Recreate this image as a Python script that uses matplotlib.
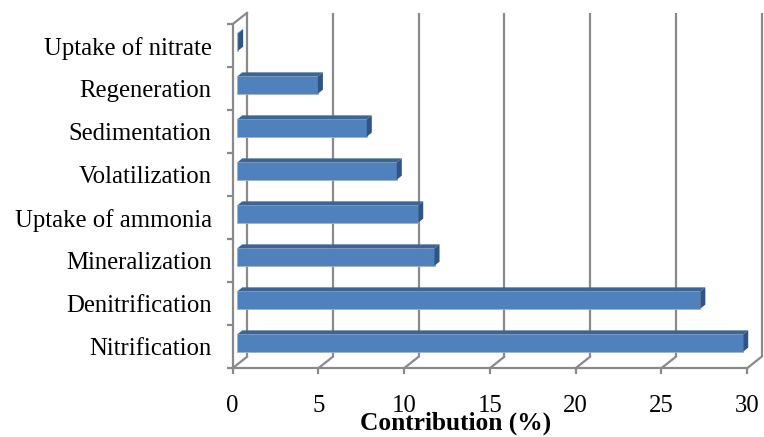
import matplotlib
matplotlib.use("Agg")
import matplotlib.pyplot as plt
from matplotlib.patches import Polygon

# Nitrogen transformation processes and their contribution (%)
categories = ["Nitrification", "Denitrification", "Mineralization", "Uptake of ammonia",
              "Volatilization", "Sedimentation", "Regeneration", "Uptake of nitrate"]
contribution = [29.5, 27.0, 11.5, 10.55, 9.3, 7.55, 4.7, 0.05]
x_ticks = [0, 5, 10, 15, 20, 25, 30]
x_label = "Contribution (%)"

W, H, DPI = 764, 437, 100
fig = plt.figure(figsize=(W / DPI, H / DPI), dpi=DPI)
fig.patch.set_facecolor("white")

# front plane of the 3-D box, in pixels
L, R, T, B = 232.5, 747.0, 24.3, 368.3
ax = fig.add_axes([L / W, 1 - B / H, (R - L) / W, (B - T) / H])
ax.set_xlim(0, 30)
ax.set_ylim(-0.5, len(categories) - 0.5)
for s in ax.spines.values():
    s.set_visible(False)
ax.patch.set_visible(False)

# pixel -> data unit conversions
px_x = 30 / (R - L)
px_y = len(categories) / (B - T)

# depth of the box and of the bars (pixels: right, up)
box_dx, box_dy = 14.5 * px_x, 11.5 * px_y
bar_off_x, bar_off_y = 4.8 * px_x, 3.8 * px_y
bar_dx, bar_dy = 5.0 * px_x, 4.0 * px_y
bar_h = 17.3 * px_y

grid_c = "#8a8a8a"
lw = 1.6
ymin, ymax = -0.5, len(categories) - 0.5

# back wall gridlines
for xv in x_ticks:
    ax.plot([xv + box_dx, xv + box_dx], [ymin + box_dy, ymax + box_dy],
            color=grid_c, lw=lw, zorder=1, clip_on=False, solid_capstyle="butt")
    # floor diagonals
    ax.plot([xv, xv + box_dx], [ymin, ymin + box_dy],
            color=grid_c, lw=lw, zorder=1, clip_on=False)

# front floor edge and left side wall
ax.plot([0, 30], [ymin, ymin], color=grid_c, lw=lw, zorder=1, clip_on=False)
ax.plot([0, 0], [ymin, ymax], color=grid_c, lw=lw, zorder=1, clip_on=False)
ax.plot([0, box_dx], [ymax, ymax + box_dy], color=grid_c, lw=lw, zorder=1, clip_on=False)

# bars: front face, top face, side face
y_pos = list(range(len(categories)))
face = "#4F81BD"
top_c = "#3C6594"
side_c = "#2E5585"
ax.barh([y + bar_off_y for y in y_pos], contribution, left=bar_off_x, height=bar_h,
        color=face, edgecolor="#9DB3CF", linewidth=0.6, zorder=3)
for y, v in zip(y_pos, contribution):
    yb = y + bar_off_y - bar_h / 2
    yt = y + bar_off_y + bar_h / 2
    x0 = bar_off_x
    x1 = bar_off_x + v
    top = Polygon([(x0, yt), (x1, yt), (x1 + bar_dx, yt + bar_dy), (x0 + bar_dx, yt + bar_dy)],
                  closed=True, facecolor=top_c, edgecolor="none", zorder=3, clip_on=False)
    side = Polygon([(x1, yb), (x1, yt), (x1 + bar_dx, yt + bar_dy), (x1 + bar_dx, yb + bar_dy)],
                   closed=True, facecolor=side_c, edgecolor="none", zorder=3, clip_on=False)
    ax.add_patch(top)
    ax.add_patch(side)

# ticks and labels
font = "Liberation Serif"
ax.set_xticks(x_ticks)
ax.set_xticklabels([str(t) for t in x_ticks], fontfamily=font, fontsize=17.8)
ax.tick_params(axis="x", direction="out", length=4, width=lw, color=grid_c, pad=15.5)
ax.set_yticks(y_pos)
ax.set_yticklabels(categories, fontfamily=font, fontsize=17.8)
ax.tick_params(axis="y", length=0, pad=15)
ax.set_yticks([y - 0.5 for y in y_pos] + [ymax], minor=True)
ax.tick_params(axis="y", which="minor", direction="out", length=4, width=lw, color=grid_c)

fig.text(456 / W, 1 - 430 / H, x_label, ha="center", va="baseline",
         fontfamily=font, fontsize=18.3, fontweight="bold")

fig.savefig("out.png", dpi=DPI)
